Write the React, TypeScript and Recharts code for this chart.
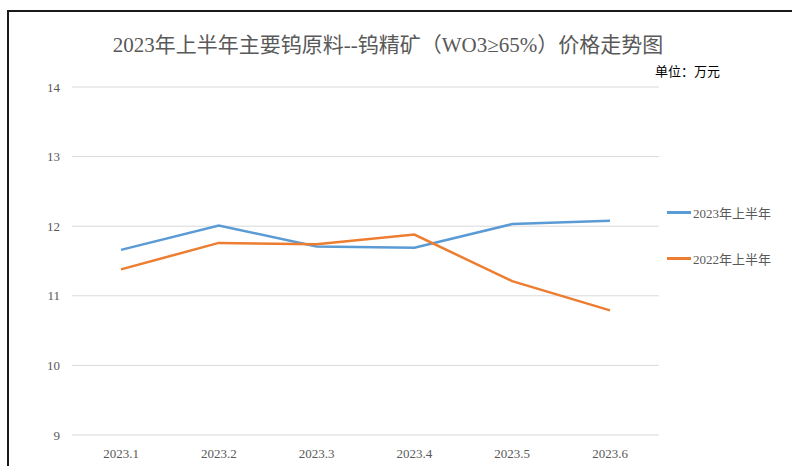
import { CartesianGrid, Legend, Line, LineChart, XAxis, YAxis } from 'recharts'

const months = ['2023.1', '2023.2', '2023.3', '2023.4', '2023.5', '2023.6']
const price2023 = [11.66, 12.01, 11.71, 11.69, 12.03, 12.08]
const price2022 = [11.38, 11.76, 11.74, 11.88, 11.21, 10.79]
const yTicks = [9, 10, 11, 12, 13, 14]

const data = months.map((m, i) => ({ month: m, y2023: price2023[i], y2022: price2022[i] }))

const serif = '"Liberation Serif", "Times New Roman", "Noto Sans CJK SC", serif'
const cjk = '"Noto Sans CJK SC", "Liberation Sans", sans-serif'

const series = [
    { key: 'y2023', name: '2023年上半年', color: '#5b9bd5' },
    { key: 'y2022', name: '2022年上半年', color: '#ed7d31' },
]

const LegendBox = () => (
    <div style={{ fontFamily: serif, fontSize: 13, color: '#595959', width: 120 }}>
        {series.map((s) => (
            <div key={s.key} style={{ display: 'flex', alignItems: 'center', height: 46 }}>
                <span style={{ display: 'inline-block', width: 24, height: 3, background: s.color, marginRight: 2 }} />
                <span>{s.name}</span>
            </div>
        ))}
    </div>
)

export default function App() {
    return (
        <div style={{ position: 'absolute', left: 0, top: 0, width: 792, height: 466, background: '#fff', overflow: 'hidden' }}>
            <div
                style={{
                    position: 'absolute',
                    left: 7,
                    top: 10,
                    width: 800,
                    height: 470,
                    borderTop: '2px solid #1a1a1a',
                    borderLeft: '2px solid #1a1a1a',
                }}
            />
            <div
                style={{
                    position: 'absolute',
                    left: 0,
                    top: 28,
                    width: 776,
                    textAlign: 'center',
                    fontFamily: serif,
                    fontSize: 21,
                    color: '#595959',
                }}
            >
                2023年上半年主要钨原料--钨精矿（WO3≥65%）价格走势图
            </div>
            <div style={{ position: 'absolute', left: 655, top: 61, fontFamily: cjk, fontSize: 13, color: '#000' }}>
                单位：万元
            </div>
            <LineChart
                width={792}
                height={466}
                data={data}
                margin={{ top: 87, right: 13, bottom: 1, left: 0 }}
                style={{ position: 'absolute', left: 0, top: 0 }}
            >
                <CartesianGrid vertical={false} stroke="#d9d9d9" />
                <XAxis
                    dataKey="month"
                    height={30}
                    axisLine={false}
                    tickLine={false}
                    tickMargin={8}
                    padding={{ left: 49, right: 49 }}
                    tick={{ fill: '#595959', fontSize: 13, fontFamily: serif }}
                />
                <YAxis
                    width={72}
                    domain={[9, 14]}
                    ticks={yTicks}
                    axisLine={false}
                    tickLine={false}
                    tickSize={8}
                    tickMargin={4}
                    tick={{ fill: '#595959', fontSize: 13, fontFamily: serif }}
                />
                <Legend
                    layout="vertical"
                    align="right"
                    verticalAlign="middle"
                    content={<LegendBox />}
                    wrapperStyle={{ left: 667, top: 189, width: 120 }}
                />
                {series.map((s) => (
                    <Line
                        key={s.key}
                        dataKey={s.key}
                        name={s.name}
                        stroke={s.color}
                        strokeWidth={2.5}
                        dot={false}
                        type="linear"
                        isAnimationActive={false}
                    />
                ))}
            </LineChart>
        </div>
    )
}
